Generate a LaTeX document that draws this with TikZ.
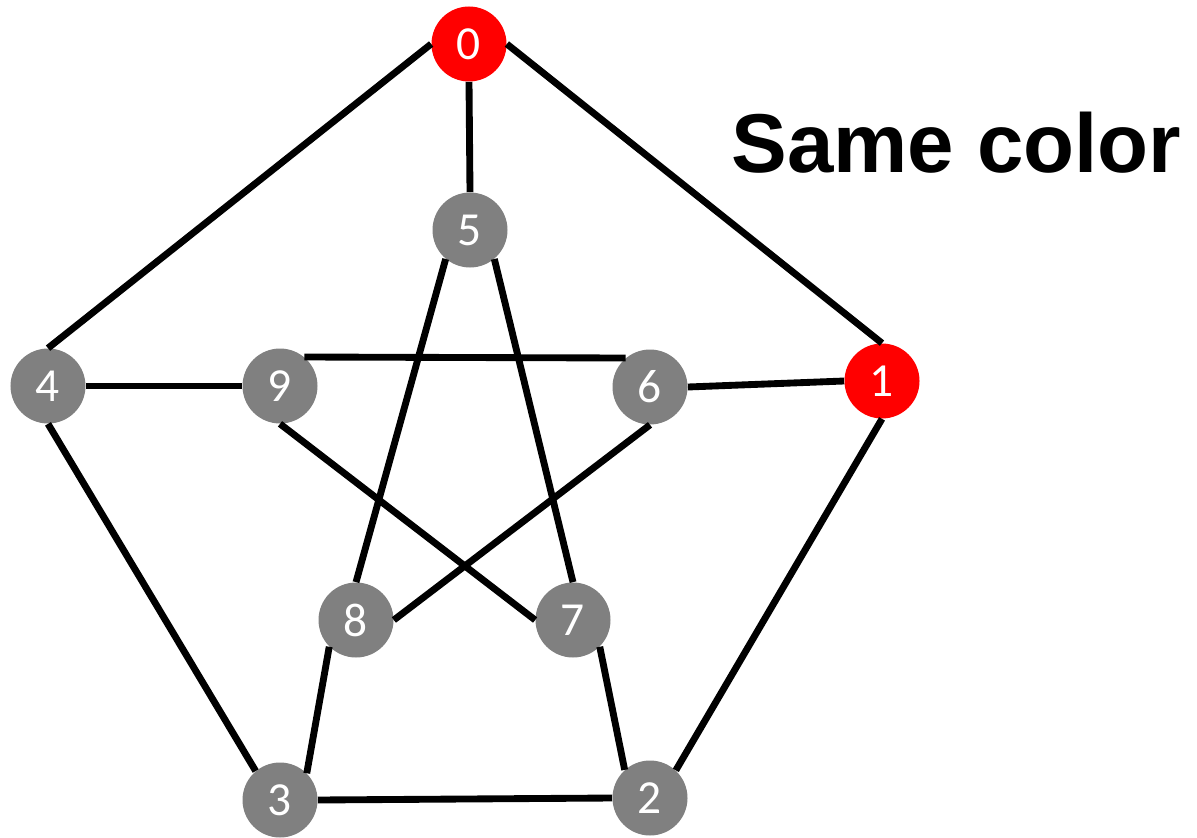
\documentclass[tikz,border=0pt]{standalone}
\usepackage{fontspec}
\usepackage{xcolor}
\usepackage{tikz}
\setmainfont{Carlito}
\newfontfamily\titlefont{Liberation Sans}
\definecolor{vtxGray}{HTML}{808080}
\definecolor{vtxRed}{HTML}{FF0000}

\begin{document}
\begin{tikzpicture}[x=0.2mm, y=-0.2mm,
  vtx/.style={circle, fill=vtxGray, text=white, minimum size=1.5cm, inner sep=0pt, font=\fontsize{27}{27}\selectfont},
  vtxred/.style={vtx, fill=vtxRed},
  edge/.style={line width=3.9pt}]
  \useasboundingbox (0,0) rectangle (1197,837);
  \node[vtxred] (n0) at (469,44) {0};
  \node[vtxred] (n1) at (882,381) {1};
  \node[vtx] (n2) at (650,798) {2};
  \node[vtx] (n3) at (280,800) {3};
  \node[vtx] (n4) at (48,386) {4};
  \node[vtx] (n5) at (470,230) {5};
  \node[vtx] (n6) at (650,387) {6};
  \node[vtx] (n7) at (573,620) {7};
  \node[vtx] (n8) at (356,620) {8};
  \node[vtx] (n9) at (280,386) {9};
  \node[font=\titlefont\bfseries\fontsize{47.5}{47.5}\selectfont, anchor=base west, inner sep=0pt] (title) at (731,173) {Same color};
  % outer ring and spokes
  \draw[edge] (n0.west) -- (n4.north);
  \draw[edge] (n0.east) -- (n1.north);
  \draw[edge] (n0.south) -- (n5.north);
  \draw[edge] (n4.east) -- (n9.west);
  \draw[edge] (n6.east) -- (n1.west);
  \draw[edge] (n1.south) -- (n2.47);
  \draw[edge] (n4.south) -- (n3.130);
  \draw[edge] (n3.east) -- (n2.west);
  \draw[edge] (n8.225) -- (n3.45);
  \draw[edge] (n7.315) -- (n2.132);
  % inner star
  \draw[edge] (n9.50) -- (n6.130);
  \draw[edge] (n5.230) -- (n8.north);
  \draw[edge] (n5.310) -- (n7.north);
  \draw[edge] (n9.south) -- (n7.west);
  \draw[edge] (n6.south) -- (n8.east);
\end{tikzpicture}
\end{document}
